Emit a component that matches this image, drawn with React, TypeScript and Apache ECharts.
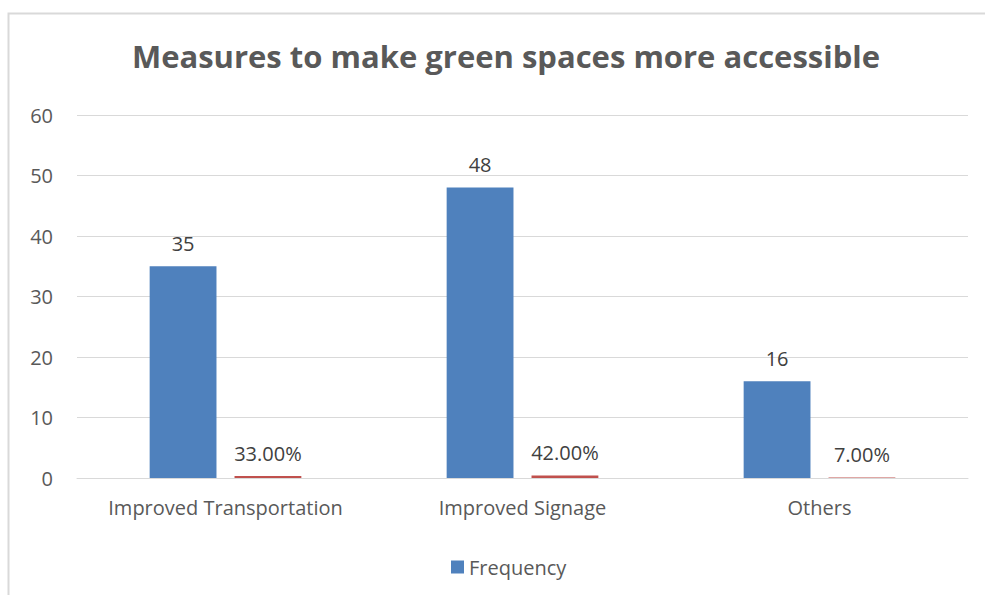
import React, { useEffect, useRef } from "react";
import * as echarts from "echarts";

const title = "Measures to make green spaces more accessible";
const categories = ["Improved Transportation", "Improved Signage", "Others"];
const frequency = [35, 48, 16];
const percentage = [0.33, 0.42, 0.07];
const yTicks = { min: 0, max: 60, interval: 10 };

const FONT = "'Open Sans', 'Liberation Sans', sans-serif";

export default function App() {
  const ref = useRef<HTMLDivElement>(null);
  useEffect(() => {
    if (!ref.current) return;
    const chart = echarts.init(ref.current, undefined, { renderer: "svg" });
    chart.setOption({
      animation: false,
      backgroundColor: "#ffffff",
      textStyle: { fontFamily: FONT },
      title: {
        text: title,
        left: 501,
        top: 35,
        textAlign: "center",
        textStyle: { fontFamily: FONT, fontSize: 31, fontWeight: "bold", color: "#595959" },
      },
      graphic: [
        {
          type: "rect",
          shape: { x: 8.5, y: 13.5, width: 1100, height: 700 },
          style: { fill: "none", stroke: "#d9d9d9", lineWidth: 2 },
          silent: true,
        },
      ],
      legend: {
        data: ["Frequency"],
        bottom: 13,
        left: 446,
        itemWidth: 13,
        itemHeight: 13,
        itemGap: 10,
        icon: "rect",
        textStyle: { fontFamily: FONT, fontSize: 20, color: "#595959" },
      },
      grid: { left: 77, right: 17, top: 115, bottom: 117, containLabel: false },
      xAxis: {
        type: "category",
        data: categories,
        axisLine: { show: true, lineStyle: { color: "#d9d9d9", width: 1 } },
        axisTick: { show: false },
        axisLabel: { interval: 0, hideOverlap: false, fontFamily: FONT, fontSize: 20, color: "#595959", margin: 19 },
      },
      yAxis: {
        type: "value",
        min: yTicks.min,
        max: yTicks.max,
        interval: yTicks.interval,
        axisLine: { show: false },
        axisTick: { show: false },
        axisLabel: { fontFamily: FONT, fontSize: 20, color: "#595959", margin: 24 },
        splitLine: { lineStyle: { color: "#d9d9d9", width: 1 } },
      },
      series: [
        {
          name: "Frequency",
          type: "bar",
          data: frequency,
          barWidth: "22.5%",
          barGap: "27%",
          itemStyle: { color: "#4f81bd" },
          label: {
            show: true,
            position: "top",
            distance: 13,
            fontFamily: FONT,
            fontSize: 20,
            color: "#404040",
          },
        },
        {
          name: "Percentage",
          type: "bar",
          data: percentage,
          barWidth: "22.5%",
          itemStyle: { color: "#c0504d" },
          label: {
            show: true,
            position: "top",
            distance: 13,
            fontFamily: FONT,
            fontSize: 20,
            color: "#404040",
            formatter: (p: any) => (p.value * 100).toFixed(2) + "%",
          },
        },
      ],
    });
    return () => chart.dispose();
  }, []);
  return <div ref={ref} style={{ width: 985, height: 595, position: "absolute", left: 0, top: 0 }} />;
}
